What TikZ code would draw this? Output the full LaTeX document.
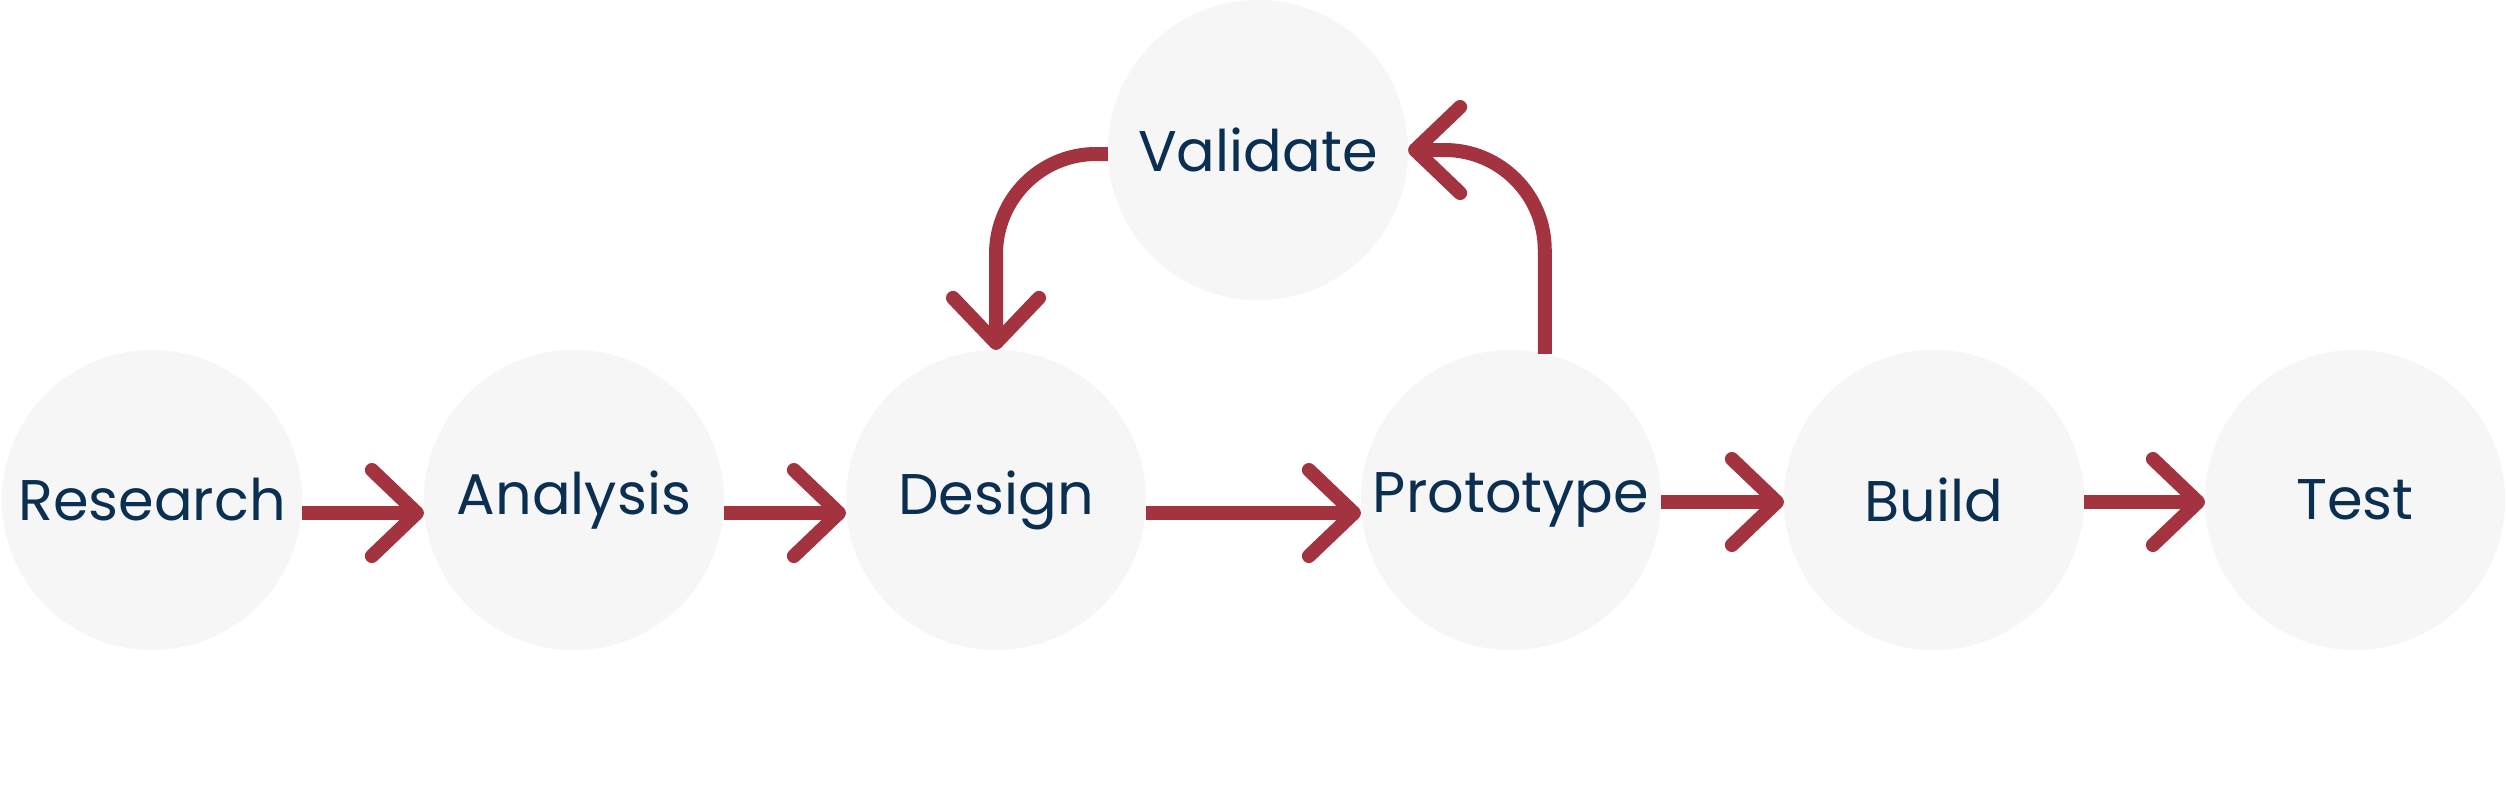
\documentclass[tikz,border=0pt]{standalone}
\usepackage{fontspec}
\setmainfont{Poppins}
\usetikzlibrary{arrows.meta}
\definecolor{inknavy}{HTML}{0A2F50}
\definecolor{brick}{HTML}{A3343F}
\definecolor{palegray}{HTML}{F6F6F6}

\begin{document}
\begin{tikzpicture}[x=0.01cm,y=-0.01cm,
  every node/.style={font=\fontsize{16.3}{20}\selectfont,text=inknavy},
  stage/.style={circle,fill=palegray,minimum size=3cm,inner sep=0pt,outer sep=0pt},
  flow/.style={brick,line width=0.14cm,-{Straight Barb[round,length=0.45cm,width=0.86cm]}}]
\useasboundingbox (0,0) rectangle (2506,784);
\node[stage] (research) at (152,500) {Research};
\node[stage] (analysis) at (574,500) {Analysis};
\node[stage] (design) at (996,500) {Design};
\node[stage] (prototype) at (1511,500) {Prototype};
\node[stage] (build) at (1934,500) {Build};
\node[stage] (test) at (2355,500) {Test};
\node[stage] (validate) at (1258,150) {Validate};
\draw[flow] ([yshift=-0.13cm]research.east)--([yshift=-0.13cm]analysis.west);
\draw[flow] ([yshift=-0.13cm]analysis.east)--([yshift=-0.13cm]design.west);
\draw[flow] ([yshift=-0.13cm]design.east)--([yshift=-0.13cm]prototype.west);
\draw[flow] ([yshift=-0.02cm]prototype.east)--([yshift=-0.02cm]build.west);
\draw[flow] ([yshift=-0.02cm]build.east)--([yshift=-0.02cm]test.west);
\draw[flow,rounded corners=1cm] ([yshift=-0.04cm]validate.west) -| (design.north);
\draw[flow,rounded corners=1cm] (prototype.77) |- (validate.east);
\end{tikzpicture}
\end{document}
